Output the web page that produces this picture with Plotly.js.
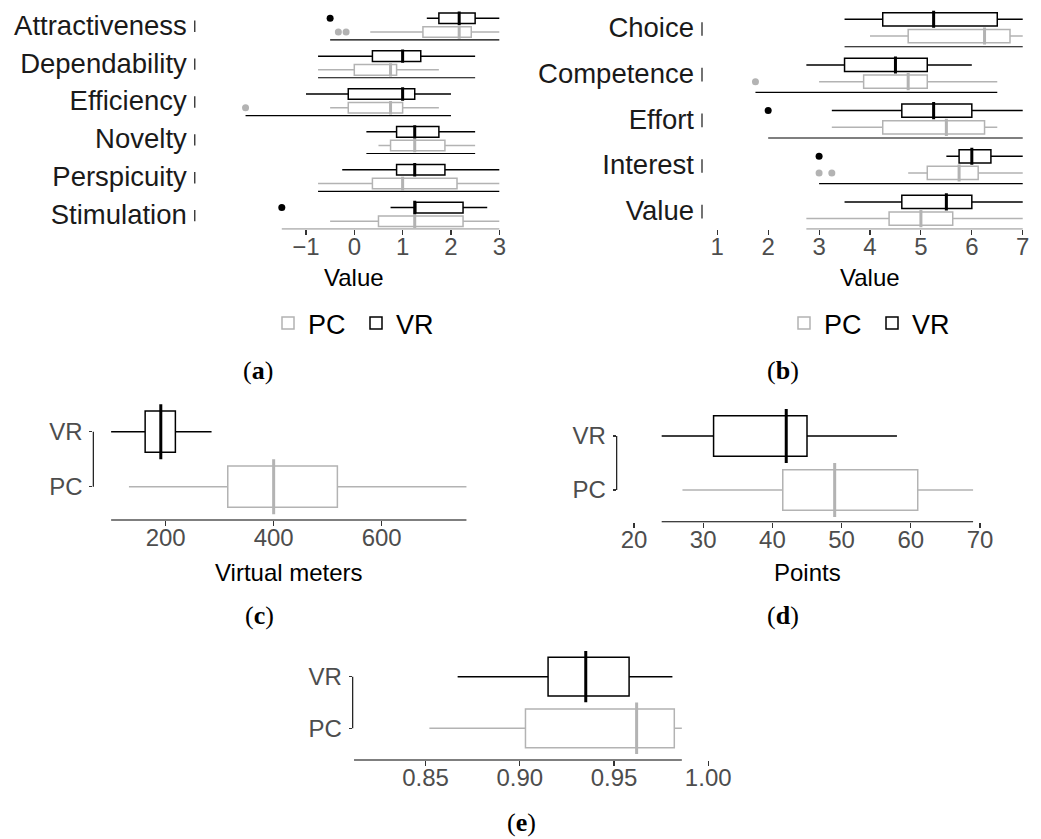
<!DOCTYPE html>
<html><head><meta charset="utf-8">
<script src="https://cdn.plot.ly/plotly-3.0.1.min.js"></script>
<style>body{margin:0;background:#fff} #chart{width:1041px;height:839px}</style>
</head><body><div id="chart"></div>
<script>
// ---------- DATA ----------
// (a) UEQ scales (box stats)
const ueqScales = ['Attractiveness','Dependability','Efficiency','Novelty','Perspicuity','Stimulation'];
const ueqVR_low  = [1.5, -0.75, -1.0, 0.25, -0.25, 0.75];
const ueqVR_q1   = [1.75, 0.375, -0.125, 0.875, 0.875, 1.25];
const ueqVR_med  = [2.17, 1.0, 1.0, 1.25, 1.25, 1.25];
const ueqVR_q3   = [2.5, 1.375, 1.25, 1.75, 1.875, 2.25];
const ueqVR_high = [3.0, 2.5, 2.0, 2.5, 3.0, 2.75];
const ueqPC_low  = [0.33, -0.75, -0.5, 0.5, -0.75, -0.5];
const ueqPC_q1   = [1.42, 0.0, -0.125, 0.75, 0.375, 0.5];
const ueqPC_med  = [2.17, 0.75, 0.75, 1.25, 1.0, 1.25];
const ueqPC_q3   = [2.42, 0.875, 1.0, 1.875, 2.125, 2.25];
const ueqPC_high = [3.0, 1.75, 1.75, 2.5, 3.0, 3.0];
const ueqVR_outScale = ['Attractiveness','Stimulation'];
const ueqVR_outVal   = [-0.5, -1.5];
const ueqPC_outScale = ['Attractiveness','Attractiveness','Efficiency'];
const ueqPC_outVal   = [-0.33, -0.17, -2.25];

// (b) IMI subscales
const imiScales = ['Choice','Competence','Effort','Interest','Value'];
const imiVR_low  = [3.5, 2.75, 3.25, 5.5, 3.5];
const imiVR_q1   = [4.25, 3.5, 4.625, 5.75, 4.625];
const imiVR_med  = [5.25, 4.5, 5.25, 6.0, 5.5];
const imiVR_q3   = [6.5, 5.125, 6.0, 6.375, 6.0];
const imiVR_high = [7.0, 6.0, 7.0, 7.0, 7.0];
const imiPC_low  = [4.0, 3.0, 3.25, 4.75, 2.75];
const imiPC_q1   = [4.75, 3.875, 4.25, 5.125, 4.375];
const imiPC_med  = [6.25, 4.75, 5.5, 5.75, 5.0];
const imiPC_q3   = [6.75, 5.125, 6.25, 6.125, 5.625];
const imiPC_high = [7.0, 6.5, 6.5, 7.0, 7.0];
const imiVR_outScale = ['Effort','Interest'];
const imiVR_outVal   = [2.0, 3.0];
const imiPC_outScale = ['Competence','Interest','Interest'];
const imiPC_outVal   = [1.75, 3.0, 3.25];

// (c)(d)(e) groups: [PC, VR]
const groups = ['PC','VR'];
const distLow  = [132, 99];
const distQ1   = [315, 162];
const distMed  = [400, 191];
const distQ3   = [518, 218];
const distHigh = [757, 285];
const distTicks = [200, 400, 600];

const pointsLow  = [27, 24];
const pointsQ1   = [41.5, 31.5];
const pointsMed  = [49, 42];
const pointsQ3   = [61, 45];
const pointsHigh = [69, 58];
const pointsTicks = [20, 30, 40, 50, 60, 70];

const accLow  = [0.852, 0.867];
const accQ1   = [0.903, 0.915];
const accMed  = [0.962, 0.935];
const accQ3   = [0.982, 0.958];
const accHigh = [0.986, 0.981];
const accObservedMin = 0.812;   // lowest observation (axis line extent in the original)
const accTicks = [0.85, 0.90, 0.95, 1.00];
const accTickText = ['0.85','0.90','0.95','1.00'];

// ---------- LAYOUT HELPERS ----------
const W = 1041, H = 839;
const xd = (a,b) => [a/W, b/W];
const yd = (top,bottom) => [1-bottom/H, 1-top/H];
const GREY = '#b3b3b3', BLACK = '#000000', TICKC = '#4d4d4d';
const FONT = 'Liberation Sans, Arial, sans-serif';

const traces = [], shapes = [], annotations = [];

function baseX(domainPx, range, tickvals, ticktext) {
  return {domain: xd(domainPx[0], domainPx[1]), range: range, tickvals: tickvals, ticktext: ticktext,
    showgrid:false, zeroline:false, showline:false, ticks:'outside', ticklen:5, tickwidth:1.1,
    tickcolor:'#333333', ticklabelstandoff:-9, tickfont:{size:24, color:TICKC, family:FONT}, fixedrange:true};
}

function boxTrace(name, pos, low, q1, med, q3, high, xa, ya, width, color, legend, showleg) {
  return {type:'box', orientation:'h', name:name, y:pos, q1:q1, median:med, q3:q3,
    lowerfence:low, upperfence:high, xaxis:xa, yaxis:ya, width:width, boxpoints:false,
    fillcolor:'#ffffff', line:{color:color, width:1.5}, whiskerwidth:0,
    legend:legend, showlegend:showleg, hoverinfo:'skip'};
}
function medTrace(pos, med, xa, ya, sizePx, color) {
  return {type:'scatter', mode:'markers', x:med, y:pos, xaxis:xa, yaxis:ya, showlegend:false,
    hoverinfo:'skip', marker:{symbol:'line-ns', size:sizePx, color:color, line:{color:color, width:3}}};
}

// faceted panel (a)/(b)
function facetPanel(o) {
  const idx = {}; o.names.forEach((n,i)=>idx[n]=i);
  const center = o.names.map((n,i)=>-i);
  const sets = [
    {name:'PC', low:o.pcLow, q1:o.pcQ1, med:o.pcMed, q3:o.pcQ3, high:o.pcHigh, oS:o.pcOutS, oV:o.pcOutV, color:GREY, sign:-1},
    {name:'VR', low:o.vrLow, q1:o.vrQ1, med:o.vrMed, q3:o.vrQ3, high:o.vrHigh, oS:o.vrOutS, oV:o.vrOutV, color:BLACK, sign:1}
  ];
  sets.forEach(s => {
    const pos = center.map(c => c + s.sign*o.off);
    traces.push(boxTrace(s.name, pos, s.low, s.q1, s.med, s.q3, s.high, o.xa, o.ya, o.boxW, s.color, o.legend, true));
  });
  sets.forEach(s => {
    const pos = center.map(c => c + s.sign*o.off);
    traces.push(medTrace(pos, s.med, o.xa, o.ya, o.boxW*o.pxUnit - 1, s.color));
    traces.push({type:'scatter', mode:'markers', xaxis:o.xa, yaxis:o.ya, showlegend:false, hoverinfo:'skip',
      x:s.oV, y:s.oS.map(n => center[idx[n]] + s.sign*o.off),
      marker:{size:7, color:s.color}});
  });
  // range-frame lines per facet
  o.names.forEach((n,i) => {
    const vals = [o.vrLow[i], o.vrHigh[i], o.pcLow[i], o.pcHigh[i]];
    o.vrOutS.forEach((s,k)=>{ if(s===n) vals.push(o.vrOutV[k]); });
    o.pcOutS.forEach((s,k)=>{ if(s===n) vals.push(o.pcOutV[k]); });
    const yl = center[i] - o.lineOff;
    shapes.push({type:'line', xref:o.xa, yref:o.ya, x0:Math.min(...vals), x1:Math.max(...vals), y0:yl, y1:yl,
      line:{color:BLACK, width:1.1}});
    shapes.push({type:'line', xref:o.xa+' domain', yref:o.ya, x0:0, x1:0, y0:center[i]+0.12, y1:center[i]-0.18,
      line:{color:BLACK, width:1.1}});
  });
  return center;
}

// ---------- PANEL (a) ----------
const pxA = 37.86;
const centerA = facetPanel({names:ueqScales, xa:'x', ya:'y', off:0.181, boxW:0.28, lineOff:0.39, pxUnit:pxA, legend:'legend',
  vrLow:ueqVR_low, vrQ1:ueqVR_q1, vrMed:ueqVR_med, vrQ3:ueqVR_q3, vrHigh:ueqVR_high, vrOutS:ueqVR_outScale, vrOutV:ueqVR_outVal,
  pcLow:ueqPC_low, pcQ1:ueqPC_q1, pcMed:ueqPC_med, pcQ3:ueqPC_q3, pcHigh:ueqPC_high, pcOutS:ueqPC_outScale, pcOutV:ueqPC_outVal});

// ---------- PANEL (b) ----------
const pxB = 45.65;
const centerB = facetPanel({names:imiScales, xa:'x2', ya:'y2', off:0.183, boxW:0.29, lineOff:0.417, pxUnit:pxB, legend:'legend2',
  vrLow:imiVR_low, vrQ1:imiVR_q1, vrMed:imiVR_med, vrQ3:imiVR_q3, vrHigh:imiVR_high, vrOutS:imiVR_outScale, vrOutV:imiVR_outVal,
  pcLow:imiPC_low, pcQ1:imiPC_q1, pcMed:imiPC_med, pcQ3:imiPC_q3, pcHigh:imiPC_high, pcOutS:imiPC_outScale, pcOutV:imiPC_outVal});

// ---------- PANELS (c)(d)(e) ----------
function simplePanel(xa, ya, low, q1, med, q3, high, pxUnit, lineMin) {
  const colors = [GREY, BLACK];
  groups.forEach((g,i) => {
    traces.push(boxTrace(g, [g], [low[i]], [q1[i]], [med[i]], [q3[i]], [high[i]], xa, ya, 0.75, colors[i], 'legend', false));
  });
  groups.forEach((g,i) => {
    traces.push(medTrace([g], [med[i]], xa, ya, 0.75*pxUnit - 2, colors[i]));
  });
  const mn = (lineMin !== undefined) ? lineMin : Math.min(...low);
  shapes.push({type:'line', xref:xa, yref:ya+' domain', x0:mn, x1:Math.max(...high), y0:0, y1:0, line:{color:BLACK, width:1.1}});
  shapes.push({type:'line', xref:xa+' domain', yref:ya, x0:0, x1:0, y0:0, y1:1, line:{color:BLACK, width:1.1}});
}
simplePanel('x3','y3', distLow, distQ1, distMed, distQ3, distHigh, 55);
simplePanel('x4','y4', pointsLow, pointsQ1, pointsMed, pointsQ3, pointsHigh, 54);
simplePanel('x5','y5', accLow, accQ1, accMed, accQ3, accHigh, 51.6, accObservedMin);

// ---------- ANNOTATIONS ----------
function ann(text, xpx, ypx, size, color, family, yanchor) {
  annotations.push({text:text, xref:'paper', yref:'paper', x:xpx/W, y:1-ypx/H, xanchor:'center', yanchor:yanchor||'middle',
    showarrow:false, font:{size:size, color:color, family:family||FONT}});
}
ann('Value', 354.3, 277, 24, BLACK);
ann('Value', 870, 277, 24, BLACK);
ann('Virtual meters', 289, 572, 24, BLACK);
ann('Points', 807, 572, 24, BLACK);
const SERIF = 'Liberation Serif, Times New Roman, serif';
ann('(<b>a</b>)', 258, 370, 26, BLACK, SERIF);
ann('(<b>b</b>)', 783, 370, 26, BLACK, SERIF);
ann('(<b>c</b>)', 259, 615, 26, BLACK, SERIF);
ann('(<b>d</b>)', 783, 615, 26, BLACK, SERIF);
ann('(<b>e</b>)', 521, 839, 26, BLACK, SERIF, 'bottom');

// ---------- AXES ----------
function facetY(domainPx, range, centers, names) {
  return {domain: yd(domainPx[0], domainPx[1]), range: range, tickvals: centers, ticktext: names,
    showgrid:false, zeroline:false, showline:false, ticks:'', ticklabelstandoff:7,
    tickfont:{size:27.5, color:'#1a1a1a', family:FONT}, fixedrange:true};
}
function groupY(domainPx, range) {
  return {domain: yd(domainPx[0], domainPx[1]), range: range, type:'category', categoryorder:'array', categoryarray: groups,
    showgrid:false, zeroline:false, showline:false, ticks:'outside', ticklen:3, tickwidth:1.1, tickcolor:'#333333',
    ticklabelstandoff:2, tickfont:{size:24, color:TICKC, family:FONT}, fixedrange:true};
}

const legendBase = {orientation:'h', xanchor:'left', yanchor:'top', font:{size:27, color:BLACK, family:FONT},
  bgcolor:'rgba(0,0,0,0)', itemwidth:30, itemclick:false, itemdoubleclick:false, traceorder:'normal',
  entrywidth:43, entrywidthmode:'pixels'};

const layout = {
  width: W, height: H, margin:{l:0, r:0, t:0, b:0}, paper_bgcolor:'#ffffff', plot_bgcolor:'rgba(0,0,0,0)',
  showlegend:true, boxmode:'overlay', hovermode:false,
  font:{family:FONT},
  xaxis:  Object.assign(baseX([194.8, 513.8], [-3.3, 3.3], [-1,0,1,2,3]), {anchor:'y'}),
  yaxis:  Object.assign(facetY([6.22, 229.2], [-5.39, 0.5], centerA, ueqScales), {anchor:'x'}),
  xaxis2: Object.assign(baseX([702, 1038], [0.7, 7.3], [1,2,3,4,5,6,7]), {anchor:'y2'}),
  yaxis2: Object.assign(facetY([0.26, 229.3], [-4.417, 0.6], centerB, imiScales), {anchor:'x2'}),
  xaxis3: Object.assign(baseX([93.3, 484.8], [66, 791], distTicks), {anchor:'y3'}),
  yaxis3: Object.assign(groupY([398.7, 520], [-0.605, 1.6]), {anchor:'x3'}),
  xaxis4: Object.assign(baseX([616.7, 997.3], [17.5, 72.5], pointsTicks), {anchor:'y4'}),
  yaxis4: Object.assign(groupY([403.6, 521.7], [-0.587, 1.6]), {anchor:'x4'}),
  xaxis5: Object.assign(baseX([352.7, 728], [0.8113, 1.0105], accTicks, accTickText), {anchor:'y5'}),
  yaxis5: Object.assign(groupY([645.7, 760], [-0.614, 1.6]), {anchor:'x5'}),
  legend:  Object.assign({}, legendBase, {x:268/W, y:1-299/H}),
  legend2: Object.assign({}, legendBase, {x:784/W, y:1-299/H}),
  shapes: shapes, annotations: annotations
};

Plotly.newPlot('chart', traces, layout, {staticPlot:true, displayModeBar:false});
</script>
</body></html>
